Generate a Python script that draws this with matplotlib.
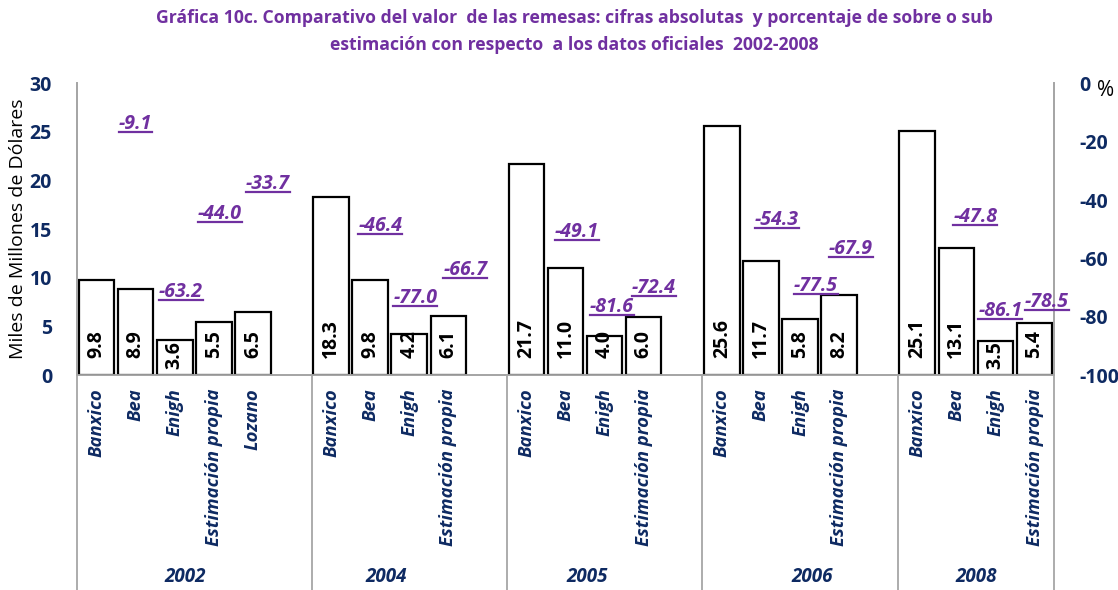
import numpy as np
import matplotlib.pyplot as plt
from matplotlib.lines import Line2D
import matplotlib.transforms as mtransforms

plt.rcParams['font.family'] = ['Open Sans', 'DejaVu Sans']

# datos
categorias = ['Banxico', 'Bea', 'Enigh', 'Estimación propia', 'Lozano', '',
              'Banxico', 'Bea', 'Enigh', 'Estimación propia', '',
              'Banxico', 'Bea', 'Enigh', 'Estimación propia', '',
              'Banxico', 'Bea', 'Enigh', 'Estimación propia', '',
              'Banxico', 'Bea', 'Enigh', 'Estimación propia']
remesas = [9.8, 8.9, 3.6, 5.5, 6.5, None,
           18.3, 9.8, 4.2, 6.1, None,
           21.7, 11.0, 4.0, 6.0, None,
           25.6, 11.7, 5.8, 8.2, None,
           25.1, 13.1, 3.5, 5.4]
porcentaje = [None, -9.1, -63.2, -44.0, -33.7, None,
              None, -46.4, -77.0, -66.7, None,
              None, -49.1, -81.6, -72.4, None,
              None, -54.3, -77.5, -67.9, None,
              None, -47.8, -86.1, -78.5]
anios = ['2002', '2004', '2005', '2006', '2008']

# posicion de las etiquetas (ajustadas a mano como en el original), en pixeles
etq_dx = [0, 6, 6, 15, 10, 6, 17, 11, 7, 10, 16, 16, 12, 19, 5, 12]
etq_dy = [-14, -24, -2, -2, -7, 10, 8, -5, 15, 7, 22, 24, 32, 6, 24, 10]
anio_x = [2.26, 7.41, 12.56, 18.3, 22.5]
divisiones = [-0.5, 5.5, 10.5, 15.5, 20.5, 24.5]

navy = '#0E2A62'
morado = '#7030A0'
gris = '#A6A6A6'

fig = plt.figure(figsize=(11.18, 5.9), dpi=100)
ax = fig.add_axes([0.0689, 0.364, 0.8739, 0.495])
ax2 = ax.twinx()

x = np.arange(len(categorias))
for xi, v in zip(x, remesas):
    if v is None:
        continue
    ax.bar(xi, v, width=0.91, color='white', edgecolor='black', linewidth=1.6, zorder=3)
    base = 0.6 if v < 3.8 else 1.75
    ax.text(xi, base, f'{v:.1f}', rotation=90, ha='center', va='bottom',
            fontsize=14, fontweight='bold', color='black', zorder=4)

ax.set_xlim(-0.5, len(categorias) - 0.5)
ax.set_ylim(0, 30)
ax.set_yticks(range(0, 31, 5))
ax.set_xticks([])
ax.tick_params(axis='y', length=0, pad=18, labelsize=14, labelcolor=navy)
for lb in ax.get_yticklabels():
    lb.set_fontweight('bold')
ax.set_ylabel('Miles de Millones de Dólares', fontsize=14, color='black', labelpad=2)

ax2.set_ylim(-100, 0)
ax2.set_yticks(range(-100, 1, 20))
ax2.set_yticklabels([str(v) for v in range(-100, 1, 20)])
ax2.tick_params(axis='y', length=0, pad=18, labelsize=14, labelcolor=navy)
for lb in ax2.get_yticklabels():
    lb.set_fontweight('bold')

for a in (ax, ax2):
    a.spines['top'].set_visible(False)
    for s in ('left', 'right', 'bottom'):
        a.spines[s].set_color(gris)
        a.spines[s].set_linewidth(1.3)

ax2.text(1.044, 0.975, '%', transform=ax.transAxes, fontsize=15, color='black',
         ha='left', va='center')

# etiquetas de porcentaje
etiquetas = []
k = 0
for xi, p in zip(x, porcentaje):
    if p is None:
        continue
    t = ax2.annotate(f'{p:.1f}', (xi, p), xytext=(etq_dx[k], etq_dy[k]),
                     textcoords='offset pixels', ha='center', va='center',
                     fontsize=14, fontweight='bold', fontstyle='italic',
                     color=morado, zorder=5)
    etiquetas.append(t)
    k += 1

# categorias bajo el eje
trans = mtransforms.blended_transform_factory(ax.transData, ax.transAxes)
for xi, c in zip(x, categorias):
    if c:
        ax.text(xi, -0.045, c, transform=trans, rotation=90, ha='center', va='top',
                fontsize=13.3, fontweight='bold', fontstyle='italic', color=navy)
for xa, a in zip(anio_x, anios):
    ax.text(xa, -0.69, a, transform=trans, ha='center', va='center',
            fontsize=13.5, fontweight='bold', fontstyle='italic', color=navy)
for d in divisiones:
    ax.plot([d, d], [0, -0.74], transform=trans, color=gris, lw=1.3, clip_on=False)

fig.text(0.514, 0.969, 'Gráfica 10c. Comparativo del valor  de las remesas: cifras absolutas  y porcentaje de sobre o sub',
         ha='center', va='center', fontsize=12.7, fontweight='bold', color=morado)
fig.text(0.514, 0.924, 'estimación con respecto  a los datos oficiales  2002-2008',
         ha='center', va='center', fontsize=12.7, fontweight='bold', color=morado)

# subrayado de las etiquetas
fig.canvas.draw()
r = fig.canvas.get_renderer()
inv = fig.transFigure.inverted()
for t in etiquetas:
    bb = t.get_window_extent(r)
    (x0, y0), (x1, _) = inv.transform([(bb.x0, bb.y0 + 2), (bb.x1, bb.y0 + 2)])
    fig.add_artist(Line2D([x0, x1], [y0, y0], transform=fig.transFigure,
                          color=morado, lw=1.6))

fig.savefig('out.png', dpi=100)
